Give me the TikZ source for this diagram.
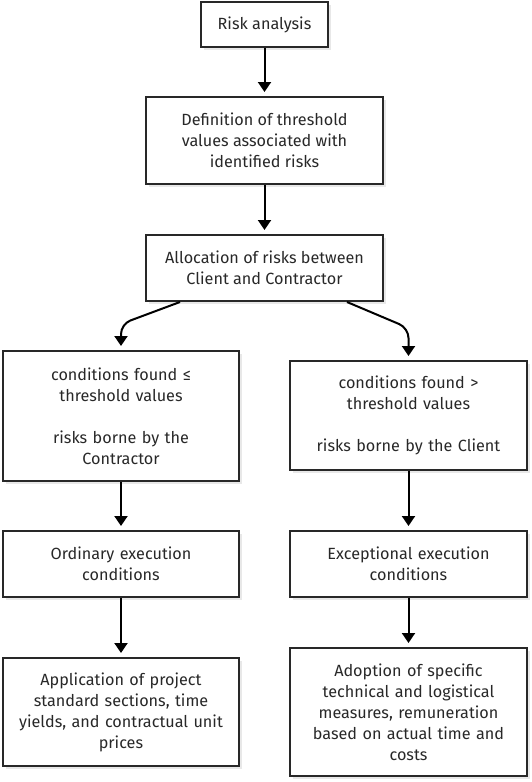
\documentclass[tikz,border=0pt]{standalone}
\usepackage{fontspec}
\setmainfont{Fira Sans}
\usepackage{xcolor}
\definecolor{boxline}{RGB}{40,40,40}
\definecolor{boxtext}{RGB}{40,40,40}
\usetikzlibrary{arrows.meta, positioning, shadows}

\tikzset{
  stepbox/.style={draw=boxline, line width=2pt, fill=white, align=center,
    text=boxtext, inner sep=4pt, font=\fontsize{16.2}{21}\selectfont,
    drop shadow={shadow xshift=2.5pt, shadow yshift=-2.5pt, fill=black!15, opacity=0.6}},
  flow/.style={-{Triangle[width=13pt,length=10pt]}, line width=2pt, black,
    shorten >=4pt}
}

\begin{document}
\begin{tikzpicture}[x=1pt, y=-1pt]
  \useasboundingbox (0,0) rectangle (532,782);

  % top column
  \node[stepbox, minimum width=127pt, minimum height=45pt] (risk) at (264.5,24.5) {Risk analysis};
  \node[stepbox, minimum width=237pt, minimum height=87pt] (thresh) at (264.5,140.5)
       {Definition of threshold\\values associated with\\identified risks};
  \node[stepbox, minimum width=237pt, minimum height=66pt] (alloc) at (264.5,268)
       {Allocation of risks between\\Client and Contractor};

  % left branch
  \node[stepbox, text width=228pt, minimum height=130pt] (low) at (121,416)
       {conditions found ≤\\threshold values\\[21pt]risks borne by the\\Contractor};
  \node[stepbox, text width=228pt, minimum height=66pt] (ordin) at (121,564)
       {Ordinary execution\\conditions};
  \node[stepbox, text width=228pt, minimum height=108pt] (apply) at (121,712)
       {Application of project\\standard sections, time\\yields, and contractual unit\\prices};

  % right branch
  \node[stepbox, text width=229pt, minimum height=109pt] (high) at (408.5,415.5)
       {conditions found >\\threshold values\\[21pt]risks borne by the Client};
  \node[stepbox, text width=229pt, minimum height=66pt] (except) at (408.5,564)
       {Exceptional execution\\conditions};
  \node[stepbox, text width=229pt, minimum height=128pt] (adopt) at (408.5,712)
       {Adoption of specific\\technical and logistical\\measures, remuneration\\based on actual time and\\costs};

  % connectors
  \draw[flow] (risk) -- (thresh);
  \draw[flow] (thresh) -- (alloc);
  \draw[flow, rounded corners=10pt] ([xshift=-84.5pt]alloc.south) -- ([yshift=26pt]low.north) -- (low.north);
  \draw[flow, rounded corners=10pt] ([xshift=82.5pt]alloc.south) -- ([yshift=32pt]high.north) -- (high.north);
  \draw[flow] (low) -- (ordin);
  \draw[flow] (ordin) -- (apply);
  \draw[flow] (high) -- (except);
  \draw[flow] (except) -- (adopt);
\end{tikzpicture}
\end{document}
